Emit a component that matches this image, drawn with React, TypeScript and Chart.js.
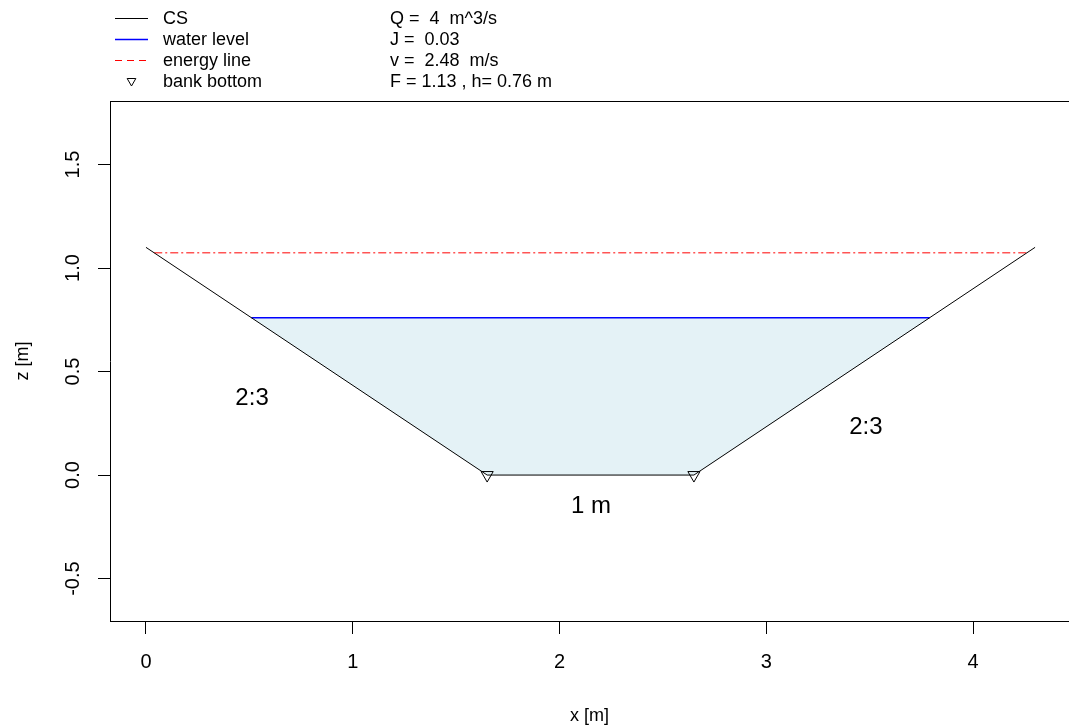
import React, { useEffect, useRef } from "react";
import { Chart, registerables } from "chart.js";

Chart.register(...registerables);

// Cross-section (CS)
const csX = [0, 1.65, 2.65, 4.3];
const csZ = [1.1, 0, 0, 1.1];
// Water body polygon
const waterX = [0.51, 1.65, 2.65, 3.79, 0.51];
const waterZ = [0.76, 0, 0, 0.76, 0.76];
// Water level
const levelX = [0.51, 3.79];
const levelZ = [0.76, 0.76];
// Energy line
const energyX = [0.04, 4.26];
const energyZ = [1.0735, 1.0735];
// Bank bottom markers
const bankX = [1.65, 2.65];
const bankZ = [0, 0];
// Ticks
const xTicks = [0, 1, 2, 3, 4];
const yTicks = [-0.5, 0, 0.5, 1.0, 1.5];
// Legend & info texts
const legendLabels = ["CS", "water level", "energy line", "bank bottom"];
const infoLabels = ["Q =  4  m^3/s", "J =  0.03", "v =  2.48  m/s", "F = 1.13 , h= 0.76 m"];
// Annotations
const annotText = ["2:3", "2:3", "1 m"];
const annotX = [0.513, 3.482, 2.152];
const annotZ = [0.372, 0.232, -0.15];

const FONT = "'Liberation Sans', Arial, sans-serif";

const pts = (xs: number[], ys: number[]) => xs.map((x, i) => ({ x, y: ys[i] }));

const overlayPlugin = {
  id: "overlay",
  afterDatasetsDraw(chart: any) {
    const { ctx, chartArea, scales } = chart;
    const xs = scales.x;
    const ys = scales.y;
    ctx.save();
    // top border of box
    ctx.strokeStyle = "#000";
    ctx.lineWidth = 1;
    ctx.beginPath();
    ctx.moveTo(chartArea.left, chartArea.top + 0.5);
    ctx.lineTo(chartArea.right + 5, chartArea.top + 0.5);
    ctx.stroke();

    // annotations
    ctx.fillStyle = "#000";
    ctx.font = `24px ${FONT}`;
    ctx.textAlign = "center";
    ctx.textBaseline = "middle";
    annotText.forEach((t, i) => {
      ctx.fillText(t, xs.getPixelForValue(annotX[i]), ys.getPixelForValue(annotZ[i]));
    });

    // legend
    const rowY = [19, 40.5, 61.5, 82.5];
    const lineY = [18.5, 39.5, 60.5, 81];
    ctx.font = `18px ${FONT}`;
    ctx.textAlign = "left";
    ctx.textBaseline = "middle";
    legendLabels.forEach((t, i) => {
      ctx.fillStyle = "#000";
      ctx.fillText(t, 163, rowY[i]);
      ctx.fillText(infoLabels[i], 390, rowY[i]);
    });
    ctx.lineWidth = 1;
    ctx.strokeStyle = "#000";
    ctx.beginPath();
    ctx.moveTo(115, lineY[0]);
    ctx.lineTo(148, lineY[0]);
    ctx.stroke();
    ctx.strokeStyle = "#0000ff";
    ctx.lineWidth = 1.3;
    ctx.beginPath();
    ctx.moveTo(115, lineY[1]);
    ctx.lineTo(148, lineY[1]);
    ctx.stroke();
    ctx.lineWidth = 1;
    ctx.strokeStyle = "#ff0000";
    ctx.setLineDash([7, 5]);
    ctx.beginPath();
    ctx.moveTo(115, lineY[2]);
    ctx.lineTo(148, lineY[2]);
    ctx.stroke();
    ctx.setLineDash([]);
    // triangle
    const cx = 131.5, cy = lineY[3], r = 5;
    ctx.strokeStyle = "#000";
    ctx.beginPath();
    ctx.moveTo(cx, cy + r);
    ctx.lineTo(cx - r * 0.866, cy - r / 2);
    ctx.lineTo(cx + r * 0.866, cy - r / 2);
    ctx.closePath();
    ctx.stroke();
    ctx.restore();
  },
};

export default function App() {
  const ref = useRef<HTMLCanvasElement | null>(null);
  useEffect(() => {
    if (!ref.current) return;
    const chart = new Chart(ref.current, {
      type: "scatter",
      data: {
        datasets: [
          {
            label: "bank bottom",
            data: pts(bankX, bankZ),
            showLine: false,
            pointStyle: "triangle",
            rotation: 180,
            pointRadius: 7,
            pointBackgroundColor: "rgba(0,0,0,0)",
            pointBorderColor: "#000",
            pointBorderWidth: 1,
            clip: false,
          } as any,
          {
            label: "CS",
            data: pts(csX, csZ),
            showLine: true,
            borderColor: "#000",
            borderWidth: 1,
            pointRadius: 0,
            fill: false,
          },
          {
            label: "water level",
            data: pts(levelX, levelZ),
            showLine: true,
            borderColor: "#0000ff",
            borderWidth: 1.4,
            pointRadius: 0,
            fill: false,
          },
          {
            label: "energy line",
            data: pts(energyX, energyZ),
            showLine: true,
            borderColor: "#ff0000",
            borderWidth: 1,
            borderDash: [8, 3, 2, 3],
            pointRadius: 0,
            fill: false,
          },
          {
            label: "water",
            data: pts(waterX, waterZ),
            showLine: true,
            borderWidth: 0,
            borderColor: "rgba(0,0,0,0)",
            backgroundColor: "rgb(228,242,246)",
            pointRadius: 0,
            fill: "shape",
          } as any,
        ],
      },
      options: {
        animation: false,
        responsive: false,
        maintainAspectRatio: false,
        layout: { autoPadding: false, padding: { top: 101, left: 0, right: 0, bottom: 0 } },
        plugins: {
          legend: { display: false },
          tooltip: { enabled: false },
          title: { display: false },
        },
        scales: {
          x: {
            type: "linear",
            min: -0.174,
            max: 4.464,
            afterBuildTicks: (s: any) => {
              s.ticks = xTicks.map((v) => ({ value: v }));
            },
            afterFit: (s: any) => {
              s.height = 106;
              s.paddingLeft = 0;
              s.paddingRight = 0;
            },
            ticks: {
              includeBounds: false,
              color: "#000",
              font: { family: FONT, size: 20 },
              padding: 16,
              maxRotation: 0,
              minRotation: 0,
              callback: (v: any) => String(v),
            },
            grid: {
              drawOnChartArea: false,
              drawTicks: true,
              tickLength: 13,
              tickColor: "#000",
              tickWidth: 1,
            },
            border: { display: true, color: "#000", width: 1 },
            title: {
              display: true,
              text: "x [m]",
              color: "#000",
              font: { family: FONT, size: 18 },
              padding: { top: 0, bottom: 0 },
            },
          },
          y: {
            type: "linear",
            min: -0.705,
            max: 1.807,
            afterBuildTicks: (s: any) => {
              s.ticks = yTicks.map((v) => ({ value: v }));
            },
            afterFit: (s: any) => {
              s.width = 110;
              s.paddingTop = 0;
              s.paddingBottom = 0;
            },
            ticks: {
              includeBounds: false,
              color: "#000",
              font: { family: FONT, size: 20 },
              padding: 7,
              crossAlign: "center",
              minRotation: 90,
              maxRotation: 90,
              callback: (v: any) => Number(v).toFixed(1),
            },
            grid: {
              drawOnChartArea: false,
              drawTicks: true,
              tickLength: 12,
              tickColor: "#000",
              tickWidth: 1,
            },
            border: { display: true, color: "#000", width: 1 },
            title: {
              display: true,
              text: "z [m]",
              color: "#000",
              font: { family: FONT, size: 18 },
              padding: { top: 12, bottom: 0 },
            },
          },
        },
      } as any,
      plugins: [overlayPlugin],
    });
    return () => chart.destroy();
  }, []);
  return (
    <div style={{ position: "absolute", left: 0, top: 0, width: 1069, height: 727, background: "#fff" }}>
      <canvas ref={ref} width={1069} height={727} style={{ display: "block" }} />
    </div>
  );
}
